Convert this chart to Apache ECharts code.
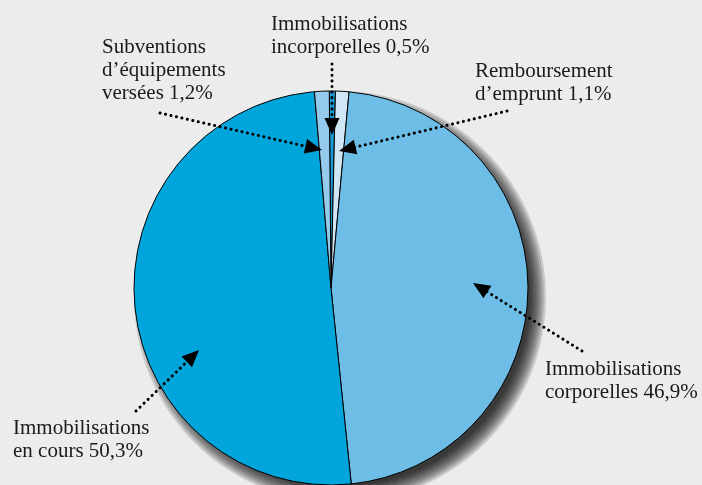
<!DOCTYPE html>
<html>
<head>
<meta charset="utf-8">
<script src="https://cdn.jsdelivr.net/npm/echarts@6/dist/echarts.min.js"></script>
<style>
html,body{margin:0;padding:0;background:#ececec;}
#c{width:702px;height:485px;}
</style>
</head>
<body>
<div id="c"></div>
<script>
// ---- data ----
var categories = [
  "Immobilisations\nincorporelles",
  "Remboursement\nd\u2019emprunt",
  "Immobilisations\ncorporelles",
  "Immobilisations\nen cours",
  "Subventions\nd\u2019\u00e9quipements\nvers\u00e9es"
];
var values = [0.5, 1.1, 46.9, 50.3, 1.2];
var colors = ["#1b9ad6", "#d0e7f5", "#6dbde6", "#00a5dc", "#94cbec"];

// ---- layout (not data) ----
var CX = 331, CY = 288, R = 197;
var labelPos = [[271, 14], [475, 61], [545, 359], [13, 418], [102, 37]];
// annotation arrows: [startX, startY, tipX, tipY]
var arrows = [
  [332, 64, 332, 135],
  [507, 111, 339, 151],
  [582, 351, 473, 283],
  [136, 411, 199, 350],
  [160, 113, 322, 150]
];
var FONT = '21px "Liberation Serif"';
var LH = 23;

function fmt(v){ return String(v).replace('.', ','); }

var chart = echarts.init(document.getElementById('c'), null, {renderer: 'canvas'});

var graphics = [];
// soft drop shadow: stacked translucent discs offset to bottom-right
for (var k = 0; k < 9; k++) {
  graphics.push({
    type: 'circle', z: 0,
    shape: {cx: CX + 9, cy: CY + 9, r: R + 9 - k * 2},
    style: {fill: 'rgba(0,0,0,0.14)'}
  });
}
categories.forEach(function(name, i){
  var lines = (name + ' ' + fmt(values[i]) + '%').split('\n');
  lines.forEach(function(line, j){
    graphics.push({
      type: 'text', z: 100,
      x: labelPos[i][0], y: labelPos[i][1] + j * LH,
      style: {text: line, font: FONT, fill: '#1a1a1a'}
    });
  });
});
arrows.forEach(function(a){
  var x1 = a[0], y1 = a[1], x2 = a[2], y2 = a[3];
  var dx = x2 - x1, dy = y2 - y1, len = Math.sqrt(dx*dx + dy*dy);
  var ux = dx/len, uy = dy/len, px = -uy, py = ux;
  var hl = 17, hw = 7.5;
  var bx = x2 - ux*hl, by = y2 - uy*hl;
  graphics.push({
    type: 'polyline', z: 100,
    shape: {points: [[x1, y1], [bx + ux*2, by + uy*2]]},
    style: {stroke: '#000', lineWidth: 3, lineDash: [0.1, 5.5], lineCap: 'round'}
  });
  graphics.push({
    type: 'polygon', z: 100,
    shape: {points: [[x2, y2], [bx + px*hw, by + py*hw], [bx - px*hw, by - py*hw]]},
    style: {fill: '#000'}
  });
});

chart.setOption({
  backgroundColor: '#ececec',
  animation: false,
  tooltip: {show: false},
  graphic: graphics,
  series: [{
    type: 'pie',
    z: 2,
    center: [CX, CY],
    radius: [0, R],
    startAngle: 90.5,
    avoidLabelOverlap: false,
    itemStyle: {borderColor: '#000', borderWidth: 1},
    label: {show: false},
    labelLine: {show: false},
    data: values.map(function(v, i){
      return {name: categories[i], value: v, itemStyle: {color: colors[i]}};
    })
  }]
});
</script>
</body>
</html>
